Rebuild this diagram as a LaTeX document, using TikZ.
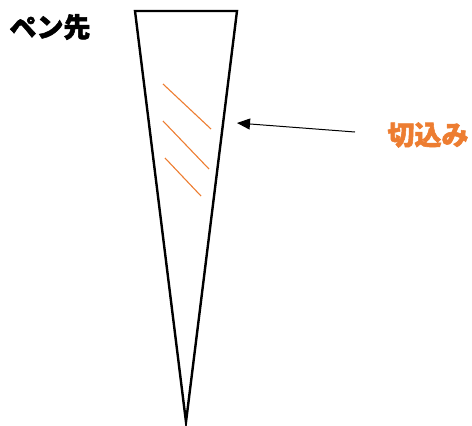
\documentclass[tikz,border=0pt]{standalone}
\usepackage{fontspec}
\newfontfamily\jpfont{Noto Sans CJK JP}[FakeBold=2]
\usetikzlibrary{arrows.meta}
\definecolor{cutorange}{HTML}{ED7D31}
\tikzset{
  pen/.style={draw=black,line width=2.4pt,line join=miter},
  cutline/.style={draw=cutorange,line width=1.1pt},
  lbl/.style={font=\jpfont\bfseries\fontsize{27}{27}\selectfont,inner sep=0pt},
  pointer/.style={draw=black,line width=1pt,-{Triangle[length=13pt,width=11pt]}}
}
\begin{document}
\begin{tikzpicture}[x=1pt,y=-1pt]
\useasboundingbox (0,0) rectangle (472,426);
\coordinate (tl) at (135,11);
\coordinate (tr) at (237,11);
\coordinate (tip) at (186,422);
\path[pen] (tl) -- (tr) -- (tip) -- cycle;
\coordinate (a1) at (163,84); \coordinate (b1) at (211,129);
\coordinate (a2) at (163,121); \coordinate (b2) at (209,169);
\coordinate (a3) at (165,158); \coordinate (b3) at (201,196);
\path[cutline] (a1) -- (b1);
\path[cutline] (a2) -- (b2);
\path[cutline] (a3) -- (b3);
\node[lbl,text=black] (pen) at (50,27) {ペン先};
\node[lbl,text=cutorange] (cut) at (428,135) {切込み};
\coordinate (arrs) at (355,132);
\coordinate (arre) at (237,123);
\path[pointer] (arrs) -- (arre);
\end{tikzpicture}
\end{document}
